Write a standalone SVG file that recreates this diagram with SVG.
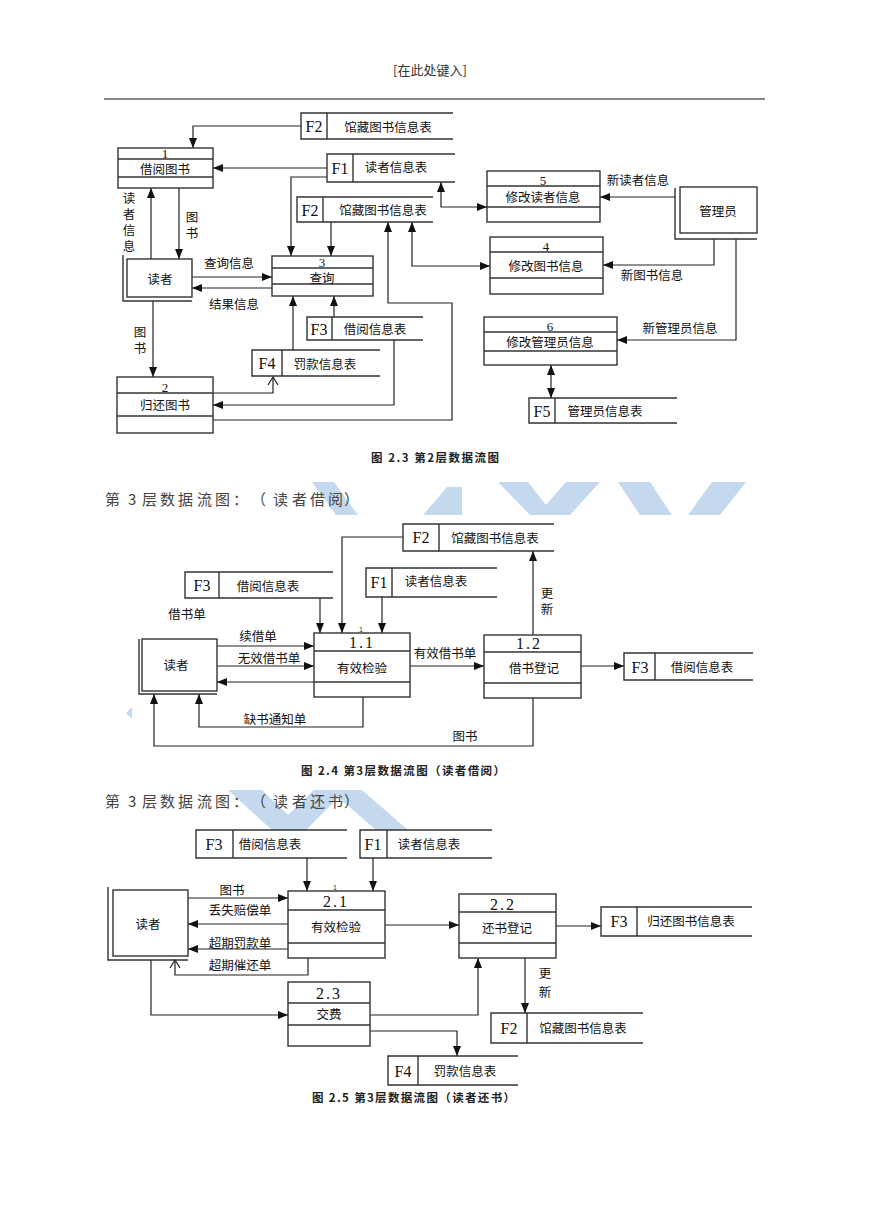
<svg xmlns="http://www.w3.org/2000/svg" width="869" height="1228" viewBox="0 0 869 1228">
<defs>
<style>
.ln{stroke:#222;stroke-width:1.2;fill:none}
.bx{stroke:#333;stroke-width:1.4;fill:#fff}
.sl{stroke:#333;stroke-width:1.4;fill:none}
.t{font-family:"Noto Sans CJK SC",sans-serif;font-size:12.5px;fill:#111;text-anchor:middle;dominant-baseline:central}
.v{font-family:"Noto Sans CJK SC",sans-serif;font-size:12.5px;fill:#111;writing-mode:vertical-rl;text-anchor:start;letter-spacing:3.5px}
.n{font-family:"Liberation Serif",serif;font-size:13px;fill:#111;text-anchor:middle}
.id{font-family:"Liberation Serif",serif;font-size:16px;fill:#111;text-anchor:middle;dominant-baseline:central}
.cap{font-family:"Noto Sans CJK SC",sans-serif;font-size:11.5px;font-weight:bold;fill:#222}
.hd{font-family:"Noto Sans CJK SC",sans-serif;font-size:15px;fill:#444}
.wm{fill:#c5d9ee}
.arr{marker-end:url(#ah)}
.arr2{marker-end:url(#ah);marker-start:url(#ah)}
.oarr{marker-end:url(#oa)}
</style>
<marker id="ah" markerUnits="userSpaceOnUse" markerWidth="11" markerHeight="8" refX="10" refY="4" orient="auto-start-reverse"><path d="M0,0 L10,4 L0,8 z" fill="#111"/></marker>
<marker id="oa" markerUnits="userSpaceOnUse" markerWidth="10" markerHeight="12" refX="9" refY="6" orient="auto"><path d="M1,1 L9,6 L1,11" fill="none" stroke="#222" stroke-width="1.2"/></marker>
</defs>
<rect width="869" height="1228" fill="#fff"/>

<!-- watermark -->
<g id="watermark">
<polygon class="wm" points="312,482 334,482 358,515 336,515"/>
<polygon class="wm" points="423,515 462,515 462,487 447,487"/>
<polygon class="wm" points="498,482 528,482 546,505 566,482 600,482 570,515 530,515"/>
<polygon class="wm" points="618,482 650,482 672,515 640,515"/>
<polygon class="wm" points="712,482 746,482 720,515 688,515"/>
<polygon class="wm" points="126,713 132,707 132,719"/>
<polygon class="wm" points="228,790 262,790 288,815 314,790 346,790 306,830 272,830"/>
<polygon class="wm" points="330,790 362,790 408,830 376,830"/>
</g>

<!-- header -->
<text x="430" y="75" style="font-family:'Noto Sans CJK SC',sans-serif;font-size:13px;fill:#333;text-anchor:middle">[在此处键入]</text>
<line x1="104" y1="99" x2="765" y2="99" stroke="#111" stroke-width="1.2"/>

<!-- ============ Diagram 2.3 ============ -->
<g id="d1-connectors">
<path class="ln arr" d="M301,126 H193 V148"/>
<path class="ln arr" d="M327,168 H213"/>
<path class="ln arr" d="M327,177 H291 V256"/>
<path class="ln arr" d="M331,222 V256"/>
<path class="ln arr2" d="M487,207 H441 V182"/>
<path class="ln arr2" d="M490,266 H412 V222"/>
<path class="ln arr" d="M213,420 H452 V303 H388 V222"/>
<path class="ln arr" d="M675,197 H600"/>
<path class="ln arr" d="M714,239 V265 H603"/>
<path class="ln arr" d="M736,239 V340 H617"/>
<path class="ln arr2" d="M551,365 V398"/>
<path class="ln arr" d="M151,259 V188"/>
<path class="ln arr" d="M179,188 V259"/>
<path class="ln arr" d="M192,277 H272"/>
<path class="ln arr" d="M272,288 H192"/>
<path class="ln arr" d="M153,301 V377"/>
<path class="ln oarr" d="M213,393 H273 V377"/>
<path class="ln arr" d="M293,350 V296"/>
<path class="ln arr" d="M334,317 V296"/>
<path class="ln arr" d="M394,340 V405 H213"/>
<text class="v" x="129" y="192">读者信息</text>
<text class="v" x="192" y="211">图书</text>
<text class="t" x="229" y="262">查询信息</text>
<text class="t" x="234" y="303">结果信息</text>
<text class="v" x="140" y="326">图书</text>
<text class="t" x="638" y="179">新读者信息</text>
<text class="t" x="652" y="274">新图书信息</text>
<text class="t" x="680" y="327">新管理员信息</text>
</g>

<g id="d1-p1"><rect class="bx" x="118" y="148" width="95" height="40"/><line class="sl" x1="118" y1="159" x2="213" y2="159"/><line class="sl" x1="118" y1="177" x2="213" y2="177"/><text class="n" x="165" y="157.5">1</text><text class="t" x="165" y="168.5">借阅图书</text></g>
<g id="d1-p3"><rect class="bx" x="272" y="256" width="101" height="40"/><line class="sl" x1="272" y1="268" x2="373" y2="268"/><line class="sl" x1="272" y1="284" x2="373" y2="284"/><text class="n" x="322" y="266.5">3</text><text class="t" x="322" y="277">查询</text></g>
<g id="d1-p5"><rect class="bx" x="487" y="171" width="113" height="51"/><line class="sl" x1="487" y1="186" x2="600" y2="186"/><line class="sl" x1="487" y1="207" x2="600" y2="207"/><text class="n" x="543" y="185">5</text><text class="t" x="543" y="196.5">修改读者信息</text></g>
<g id="d1-p4"><rect class="bx" x="490" y="237" width="113" height="57"/><line class="sl" x1="490" y1="252" x2="603" y2="252"/><line class="sl" x1="490" y1="278" x2="603" y2="278"/><text class="n" x="546" y="251">4</text><text class="t" x="546" y="265">修改图书信息</text></g>
<g id="d1-p6"><rect class="bx" x="484" y="317" width="133" height="48"/><line class="sl" x1="484" y1="332" x2="617" y2="332"/><line class="sl" x1="484" y1="351" x2="617" y2="351"/><text class="n" x="550" y="330.5">6</text><text class="t" x="550" y="341">修改管理员信息</text></g>
<g id="d1-p2"><rect class="bx" x="117" y="377" width="96" height="56"/><line class="sl" x1="117" y1="393" x2="213" y2="393"/><line class="sl" x1="117" y1="416" x2="213" y2="416"/><text class="n" x="165" y="392">2</text><text class="t" x="165" y="404">归还图书</text></g>

<g id="d1-reader"><polyline class="sl" points="123,255 123,301 192,301"/><rect class="bx" x="127" y="259" width="65" height="38"/><text class="t" x="160" y="278">读者</text></g>
<g id="d1-admin"><polyline class="sl" points="675,188 675,239 757,239"/><rect class="bx" x="680" y="187" width="77" height="46"/><text class="t" x="718" y="210">管理员</text></g>

<g id="d1-f2a"><path class="sl" d="M453,113 H301 V139 H453 M327,113 V139"/><text class="id" x="314" y="126">F2</text><text class="t" x="388" y="126">馆藏图书信息表</text></g>
<g id="d1-f1"><path class="sl" d="M455,154 H327 V182 H455 M353,154 V182"/><text class="id" x="340" y="168">F1</text><text class="t" x="396" y="166">读者信息表</text></g>
<g id="d1-f2b"><path class="sl" d="M433,197 H297 V222 H433 M323,197 V222"/><text class="id" x="310" y="210">F2</text><text class="t" x="383" y="209">馆藏图书信息表</text></g>
<g id="d1-f3"><path class="sl" d="M423,317 H307 V340 H423 M332,317 V340"/><text class="id" x="319" y="329">F3</text><text class="t" x="375" y="328">借阅信息表</text></g>
<g id="d1-f4"><path class="sl" d="M380,350 H252 V376 H380 M282,350 V376"/><text class="id" x="267" y="363">F4</text><text class="t" x="325" y="363">罚款信息表</text></g>
<g id="d1-f5"><path class="sl" d="M677,398 H529 V423 H677 M555,398 V423"/><text class="id" x="542" y="411">F5</text><text class="t" x="605" y="410">管理员信息表</text></g>

<text class="cap" x="371" y="462" textLength="128" lengthAdjust="spacing">图 2.3 第2层数据流图</text>

<!-- ============ Diagram 2.4 ============ -->
<text class="hd"><tspan x="105" y="505">第</tspan><tspan x="128" y="505">3</tspan><tspan x="142" y="505">层</tspan><tspan x="160" y="505">数</tspan><tspan x="178" y="505">据</tspan><tspan x="197" y="505">流</tspan><tspan x="215" y="505">图</tspan><tspan x="233" y="505">：</tspan><tspan x="251" y="505">（</tspan><tspan x="273" y="505">读</tspan><tspan x="292" y="505">者</tspan><tspan x="310" y="505">借</tspan><tspan x="328" y="505">阅</tspan><tspan x="344" y="505">）</tspan></text>

<g id="d2-connectors">
<path class="ln arr" d="M403,537 H342 V633"/>
<path class="ln arr" d="M320,598 V633"/>
<path class="ln arr" d="M382,597 V633"/>
<path class="ln arr" d="M217,646 H314"/>
<path class="ln arr" d="M217,666 H314"/>
<path class="ln arr" d="M314,682 H217"/>
<path class="ln arr" d="M363,697 V727 H199 V694"/>
<path class="ln arr" d="M533,698 V746 H154 V694"/>
<path class="ln arr" d="M410,666 H484"/>
<path class="ln arr" d="M581,666 H624"/>
<path class="ln arr" d="M533,635 V551"/>
<text class="t" x="187" y="613">借书单</text>
<text class="t" x="258" y="635">续借单</text>
<text class="t" x="269" y="657">无效借书单</text>
<text class="t" x="275" y="718">缺书通知单</text>
<text class="t" x="465" y="735">图书</text>
<text class="t" x="445" y="652">有效借书单</text>
<text class="v" x="547" y="587">更新</text>
</g>

<g id="d2-f2"><path class="sl" d="M554,524 H403 V551 H554 M439,524 V551"/><text class="id" x="421" y="537">F2</text><text class="t" x="495" y="537">馆藏图书信息表</text></g>
<g id="d2-f3"><path class="sl" d="M333,572 H185 V598 H333 M219,572 V598"/><text class="id" x="202" y="585">F3</text><text class="t" x="268" y="585">借阅信息表</text></g>
<g id="d2-f1"><path class="sl" d="M497,568 H366 V597 H497 M392,568 V597"/><text class="id" x="379" y="582">F1</text><text class="t" x="436" y="580">读者信息表</text></g>
<g id="d2-f3b"><path class="sl" d="M753,653 H624 V680 H753 M655,653 V680"/><text class="id" x="640" y="667">F3</text><text class="t" x="702" y="666">借阅信息表</text></g>
<g id="d2-reader"><polyline class="sl" points="139,639 139,694 217,694"/><rect class="bx" x="142" y="639" width="75" height="52"/><text class="t" x="176" y="664">读者</text></g>
<g id="d2-p11"><rect class="bx" x="314" y="633" width="96" height="64"/><line class="sl" x1="314" y1="651" x2="410" y2="651"/><line class="sl" x1="314" y1="682" x2="410" y2="682"/><text x="361" y="632" style="font-family:'Liberation Sans',sans-serif;font-size:7px;fill:#333;text-anchor:middle">1</text><text class="n" x="362" y="648" style="font-size:16px" letter-spacing="2">1.1</text><text class="t" x="362" y="667">有效检验</text></g>
<g id="d2-p12"><rect class="bx" x="484" y="635" width="97" height="63"/><line class="sl" x1="484" y1="652" x2="581" y2="652"/><line class="sl" x1="484" y1="683" x2="581" y2="683"/><text class="n" x="529" y="649" style="font-size:16px" letter-spacing="2">1.2</text><text class="t" x="534" y="667">借书登记</text></g>

<text class="cap" x="301" y="775" textLength="204" lengthAdjust="spacing">图 2.4 第3层数据流图（读者借阅）</text>

<!-- ============ Diagram 2.5 ============ -->
<text class="hd"><tspan x="105" y="807">第</tspan><tspan x="128" y="807">3</tspan><tspan x="142" y="807">层</tspan><tspan x="160" y="807">数</tspan><tspan x="178" y="807">据</tspan><tspan x="197" y="807">流</tspan><tspan x="215" y="807">图</tspan><tspan x="233" y="807">：</tspan><tspan x="251" y="807">（</tspan><tspan x="273" y="807">读</tspan><tspan x="292" y="807">者</tspan><tspan x="310" y="807">还</tspan><tspan x="328" y="807">书</tspan><tspan x="344" y="807">）</tspan></text>

<g id="d3-connectors">
<path class="ln arr" d="M307,858 V891"/>
<path class="ln arr" d="M373,858 V891"/>
<path class="ln arr" d="M188,898 H288"/>
<path class="ln arr" d="M288,924 H188"/>
<path class="ln arr" d="M288,949 H188"/>
<path class="ln oarr" d="M308,958 V975 H175 V960"/>
<path class="ln arr" d="M151,960 V1015 H288"/>
<path class="ln arr" d="M385,925 H459"/>
<path class="ln arr" d="M556,926 H601"/>
<path class="ln arr" d="M370,1015 H478 V958"/>
<path class="ln arr" d="M370,1031 H457 V1056"/>
<path class="ln arr" d="M525,958 V1013"/>
<text class="t" x="232" y="889">图书</text>
<text class="t" x="240" y="909">丢失赔偿单</text>
<text class="t" x="240" y="942">超期罚款单</text>
<text class="t" x="240" y="964">超期催还单</text>
<text class="v" x="545" y="967" style="letter-spacing:6.5px">更新</text>
</g>

<g id="d3-f3"><path class="sl" d="M347,830 H196 V858 H347 M233,830 V858"/><text class="id" x="214" y="844">F3</text><text class="t" x="270" y="843">借阅信息表</text></g>
<g id="d3-f1"><path class="sl" d="M492,830 H360 V858 H492 M387,830 V858"/><text class="id" x="373" y="844">F1</text><text class="t" x="429" y="843">读者信息表</text></g>
<g id="d3-reader"><polyline class="sl" points="108,887 108,960 188,960"/><rect class="bx" x="113" y="890" width="75" height="66"/><text class="t" x="148" y="923">读者</text></g>
<g id="d3-p21"><rect class="bx" x="288" y="891" width="97" height="67"/><line class="sl" x1="288" y1="910" x2="385" y2="910"/><line class="sl" x1="288" y1="943" x2="385" y2="943"/><text x="335" y="890" style="font-family:'Liberation Sans',sans-serif;font-size:7px;fill:#333;text-anchor:middle">1</text><text class="n" x="336" y="907" style="font-size:16px" letter-spacing="2">2.1</text><text class="t" x="336" y="926">有效检验</text></g>
<g id="d3-p22"><rect class="bx" x="459" y="894" width="97" height="64"/><line class="sl" x1="459" y1="912" x2="556" y2="912"/><line class="sl" x1="459" y1="943" x2="556" y2="943"/><text class="n" x="503" y="910" style="font-size:16px" letter-spacing="2">2.2</text><text class="t" x="507" y="927">还书登记</text></g>
<g id="d3-p23"><rect class="bx" x="288" y="982" width="82" height="64"/><line class="sl" x1="288" y1="1003" x2="370" y2="1003"/><line class="sl" x1="288" y1="1025" x2="370" y2="1025"/><text class="n" x="329" y="999" style="font-size:16px" letter-spacing="2">2.3</text><text class="t" x="329" y="1013">交费</text></g>
<g id="d3-f3b"><path class="sl" d="M752,907 H601 V936 H752 M637,907 V936"/><text class="id" x="619" y="921">F3</text><text class="t" x="691" y="920">归还图书信息表</text></g>
<g id="d3-f4"><path class="sl" d="M518,1056 H388 V1085 H518 M418,1056 V1085"/><text class="id" x="403" y="1071">F4</text><text class="t" x="465" y="1070">罚款信息表</text></g>
<g id="d3-f2"><path class="sl" d="M643,1013 H491 V1043 H643 M527,1013 V1043"/><text class="id" x="509" y="1028">F2</text><text class="t" x="583" y="1027">馆藏图书信息表</text></g>

<text class="cap" x="312" y="1102" textLength="203" lengthAdjust="spacing">图 2.5 第3层数据流图（读者还书）</text>
</svg>
